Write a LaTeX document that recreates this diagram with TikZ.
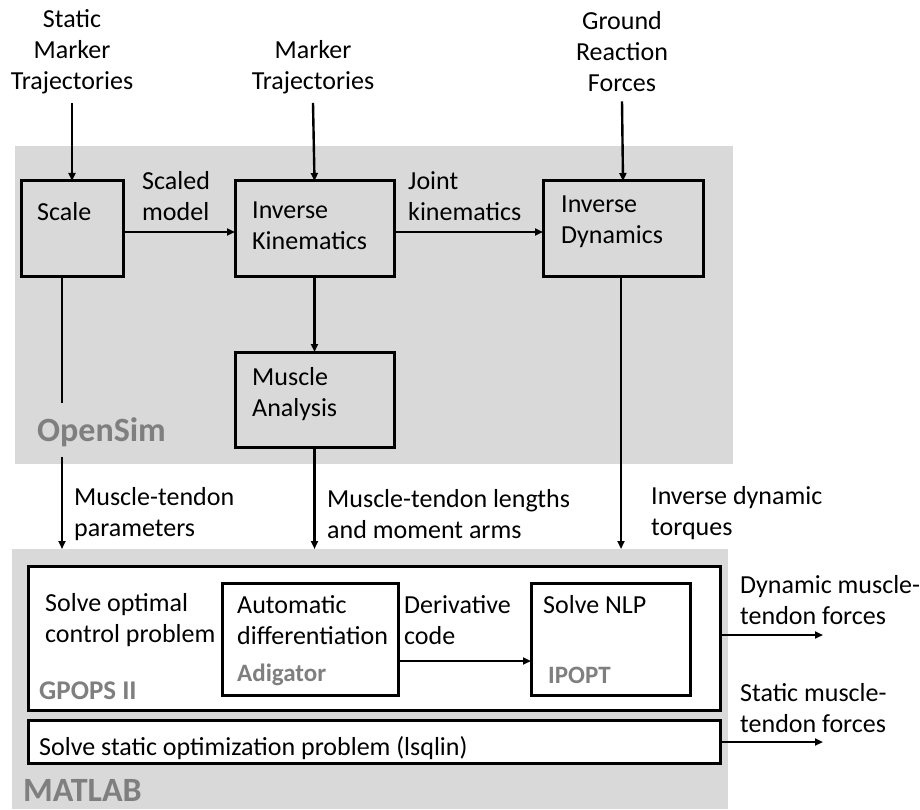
\documentclass[tikz,border=0pt]{standalone}
\usepackage{fontspec}
\setmainfont{Carlito}
\usetikzlibrary{arrows.meta}
\definecolor{bggray}{HTML}{D9D9D9}
\definecolor{lblgray}{HTML}{7F7F7F}
\begin{document}
\begin{tikzpicture}[x=1pt,y=-1pt,
  txt/.style={inner sep=0pt,align=left,anchor=west,font=\fontsize{26}{30.5}\selectfont},
  ctxt/.style={inner sep=0pt,align=center,anchor=center,font=\fontsize{26}{31}\selectfont},
  biglbl/.style={inner sep=0pt,anchor=west,text=lblgray,font=\fontsize{34}{38}\selectfont\bfseries},
  smlbl/.style={inner sep=0pt,anchor=west,text=lblgray,font=\fontsize{25}{30}\selectfont\bfseries},
  region/.style={fill=bggray,draw=none,inner sep=0pt,outer sep=0pt},
  box/.style={draw=black,line width=3pt,inner sep=0pt,outer sep=0pt},
  wbox/.style={box,fill=white},
  arr/.style={line width=2.4pt,-{Triangle[length=8pt,width=7pt]}},
  ln/.style={line width=2.4pt}]
\useasboundingbox (0,0) rectangle (920,810);
% gray regions
\node[region,minimum width=718,minimum height=318] (osim) at (374,305) {};
\node[region,minimum width=716,minimum height=260] (mat) at (370,679) {};
% OpenSim boxes
\node[box,minimum width=102,minimum height=95] (scale) at (72,228.5) {};
\node[box,minimum width=159,minimum height=95] (ik) at (314.5,228.5) {};
\node[box,minimum width=160,minimum height=95] (id) at (623,228.5) {};
\node[box,minimum width=159,minimum height=95] (ma) at (314.5,399.5) {};
% MATLAB boxes
\node[wbox,minimum width=692,minimum height=144] (gpops) at (374,638) {};
\node[box,minimum width=176,minimum height=112] (adi) at (310,639) {};
\node[box,minimum width=159,minimum height=112] (nlp) at (610.5,639) {};
\node[wbox,minimum width=692,minimum height=43] (lsq) at (374,741.5) {};
% inputs
\node[ctxt] (smt) at (72,52) {Static\\Marker\\Trajectories};
\node[ctxt] (mt) at (313,67) {Marker\\Trajectories};
\node[ctxt] (grf) at (622,52) {Ground\\Reaction\\Forces};
% box texts
\node[txt] (tscale) at (37,212) {Scale};
\node[txt] (tik) at (252,226) {Inverse\\Kinematics};
\node[txt] (tid) at (561,222) {Inverse\\Dynamics};
\node[txt] (tma) at (252,394) {Muscle\\Analysis};
\node[biglbl] (tos) at (37,432) {OpenSim};
% edge labels
\node[txt] (lsm) at (142,196) {Scaled\\model};
\node[txt] (ljk) at (408,196) {Joint\\kinematics};
\node[txt] (lmtp) at (74,514) {Muscle-tendon\\parameters};
\node[txt] (lmtl) at (327,514) {Muscle-tendon lengths\\and moment arms};
\node[txt] (lidt) at (651,513) {Inverse dynamic\\torques};
% MATLAB texts
\node[txt] (tsoc) at (45,620) {Solve optimal\\control problem};
\node[txt] (tad) at (237,620) {Automatic\\differentiation};
\node[smlbl] (tadi) at (237,675) {Adigator};
\node[smlbl,font=\fontsize{27}{32}\selectfont\bfseries] (tgp) at (39,691) {GPOPS II};
\node[txt] (tdc) at (404,620) {Derivative\\code};
\node[txt] (tnlp) at (543,605) {Solve NLP};
\node[smlbl] (tip) at (548,675) {IPOPT};
\node[txt] (tlsq) at (39,748) {Solve static optimization problem (lsqlin)};
\node[biglbl] (tmat) at (23,790) {MATLAB};
\node[txt] (tdyn) at (740,600) {Dynamic muscle-\\tendon forces};
\node[txt] (tsta) at (740,708) {Static muscle-\\tendon forces};
% coordinates
\coordinate (sdA) at (62,403);
\coordinate (sdB) at (62,457);
\coordinate (dynE) at (823,635);
\coordinate (staE) at (823,742);
% connectors
\draw[arr] ([yshift=-9]smt.south) -- (scale.north);
\draw[arr] ([yshift=-9]mt.south) -- (ik.north);
\draw[arr] ([yshift=-9]grf.south) -- (id.north);
\draw[arr] (scale.east |- 0,232) -- (ik.west |- 0,232);
\draw[arr] (ik.east |- 0,232) -- (id.west |- 0,232);
\draw[arr] (ik.south) -- (ma.north);
\draw[ln] (scale.south -| sdA) -- (sdA);
\draw[arr] (sdB) -- (mat.north -| sdB);
\draw[arr] (ma.south) -- (mat.north -| ma.south);
\draw[arr] (id.south -| 621,0) -- (mat.north -| 621,0);
\draw[arr] (adi.east |- 0,661) -- (nlp.west |- 0,661);
\draw[arr] (gpops.east |- dynE) -- (dynE);
\draw[arr] (lsq.east |- staE) -- (staE);
\end{tikzpicture}
\end{document}
